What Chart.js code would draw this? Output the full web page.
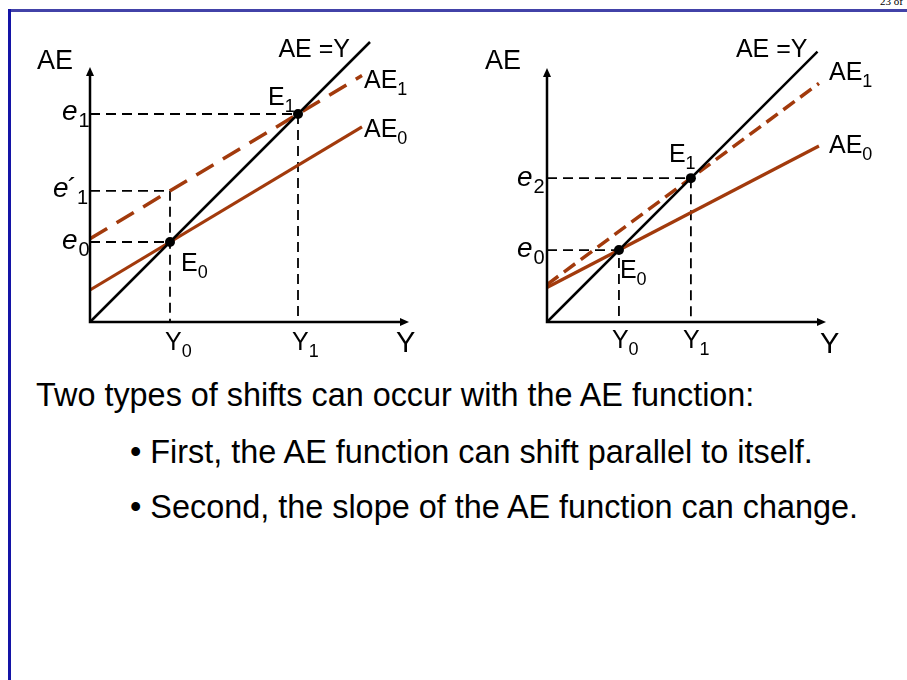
<!DOCTYPE html>
<html>
<head>
<meta charset="utf-8">
<title>Shifts of the AE function</title>
<script src="https://cdn.jsdelivr.net/npm/chart.js@4/dist/chart.umd.min.js"></script>
<style>
  body { margin: 0; background: #fff; width: 907px; height: 680px; overflow: hidden; position: relative;
         font-family: Arial, "Liberation Sans", sans-serif; }
  .frame-top { position: absolute; left: 8px; top: 9px; width: 899px; height: 3px; background: #4242a8; }
  .frame-left { position: absolute; left: 8px; top: 9px; width: 3px; height: 671px; background: #1414a6; }
  .page-no { position: absolute; left: 880px; top: -5px; font: 11px "Liberation Serif", "Times New Roman", serif; white-space: nowrap; }
  canvas { position: absolute; top: 0; }
  #shiftChart { left: 0; }
  #slopeChart { left: 455px; }
  .txt { position: absolute; font-size: 32.4px; line-height: 32px; white-space: nowrap; color: #000; }
</style>
</head>
<body>
<div class="frame-top"></div>
<div class="frame-left"></div>
<div class="page-no">23 of</div>

<canvas id="shiftChart" width="450" height="370"></canvas>
<canvas id="slopeChart" width="452" height="370"></canvas>

<div class="txt" style="left:36px; top:379px;">Two types of shifts can occur with the AE function:</div>
<div class="txt" style="left:130px; top:436px;">• First, the AE function can shift parallel to itself.</div>
<div class="txt" style="left:130px; top:491px;">• Second, the slope of the AE function can change.</div>

<script>
// left panel: AE shifts up parallel to itself
const shiftIncome = [0, 340];        // Y at the two ends of AE0 / AE1
const shiftAE0 = [40, 244];
const shiftAE1 = [104, 308];
const shiftDiagonal = [0, 350];      // AE = Y
const shiftY0 = 100, shiftY1 = 260;
const shiftE0 = 100, shiftE1prime = 164, shiftE1 = 260;
const shiftMax = { x: 397.5, y: 317.5 };

// right panel: AE gets steeper
const slopeIncome = [0, 378];
const slopeAE0 = [48, 244.6];
const slopeAE1 = [52, 331.7];
const slopeDiagonal = [0, 376];
const slopeY0 = 100, slopeY1 = 200;
const slopeE0 = 100, slopeE2 = 200;
const slopeMax = { x: 386.4, y: 351.7 };

const BROWN = '#a23a0c';
const FONT = 'Arial, "Liberation Sans", sans-serif';

function pts(xs, ys) {
    return xs.map((x, i) => ({ x: x, y: ys[i] }));
}

// axes with arrow heads, drawn over the guides
const arrowAxes = {
    id: 'arrowAxes',
    afterDatasetsDraw(chart) {
        const ctx = chart.ctx;
        const a = chart.chartArea;
        ctx.save();
        ctx.strokeStyle = '#000';
        ctx.fillStyle = '#000';
        ctx.lineWidth = 2.5;
        ctx.beginPath();
        ctx.moveTo(a.left, a.top + 4);
        ctx.lineTo(a.left, a.bottom);
        ctx.lineTo(a.right - 4, a.bottom);
        ctx.stroke();
        // heads
        ctx.beginPath();
        ctx.moveTo(a.left, a.top - 1);
        ctx.lineTo(a.left - 4, a.top + 8);
        ctx.lineTo(a.left + 4, a.top + 8);
        ctx.closePath();
        ctx.fill();
        ctx.beginPath();
        ctx.moveTo(a.right + 1, a.bottom);
        ctx.lineTo(a.right - 8, a.bottom - 4);
        ctx.lineTo(a.right - 8, a.bottom + 4);
        ctx.closePath();
        ctx.fill();
        ctx.restore();
    }
};

// text labels with subscripts, placed from data positions
const diagramLabels = {
    id: 'diagramLabels',
    afterDraw(chart, args, opts) {
        const ctx = chart.ctx;
        const xs = chart.scales.x, ys = chart.scales.y;
        ctx.save();
        ctx.fillStyle = '#000';
        ctx.textBaseline = 'alphabetic';
        opts.items.forEach(it => {
            const size = it.size || 25;
            const subSize = Math.round(size * 0.7);
            const mainFont = (it.italic ? 'italic ' : '') + size + 'px ' + FONT;
            ctx.font = mainFont;
            const w = ctx.measureText(it.t).width;
            let markW = 0;
            if (it.mark) {
                ctx.font = size + 'px ' + FONT;
                markW = ctx.measureText(it.mark).width;
            }
            let subW = 0;
            if (it.sub) {
                ctx.font = subSize + 'px ' + FONT;
                subW = ctx.measureText(it.sub).width;
            }
            let x = xs.getPixelForValue(it.at[0]) + it.dx;
            const y = ys.getPixelForValue(it.at[1]) + it.dy;
            if (it.align === 'right') x -= w + markW + subW;
            ctx.font = mainFont;
            ctx.fillText(it.t, x, y);
            if (it.mark) {
                ctx.font = size + 'px ' + FONT;
                ctx.fillText(it.mark, x + w - 1, y);
            }
            if (it.sub) {
                ctx.font = subSize + 'px ' + FONT;
                ctx.fillText(it.sub, x + w + markW - (it.mark ? 2 : 0) + (it.italic ? 1 : 0), y + 7);
            }
        });
        ctx.restore();
    }
};

function lineSet(data, color, width, dash) {
    return {
        data: data,
        showLine: true,
        borderColor: color,
        borderWidth: width,
        borderDash: dash || [],
        pointRadius: 0,
        clip: false,
        fill: false
    };
}

function guideSet(data) {
    return lineSet(data, '#000', 1.8, [10, 6]);
}

function dotSet(data) {
    return {
        data: data,
        showLine: false,
        pointRadius: 5,
        pointBackgroundColor: '#000',
        pointBorderWidth: 0,
        clip: false
    };
}

function makeChart(id, datasets, max, padding, items) {
    return new Chart(document.getElementById(id), {
        type: 'scatter',
        data: { datasets: datasets },
        options: {
            responsive: false,
            animation: false,
            events: [],
            layout: { padding: padding },
            scales: {
                x: { type: 'linear', min: 0, max: max.x, display: false },
                y: { type: 'linear', min: 0, max: max.y, display: false }
            },
            plugins: {
                legend: { display: false },
                tooltip: { enabled: false },
                diagramLabels: { items: items }
            }
        },
        plugins: [arrowAxes, diagramLabels]
    });
}

makeChart('shiftChart', [
    dotSet([{ x: shiftY0, y: shiftE0 }, { x: shiftY1, y: shiftE1 }]),
    lineSet(pts(shiftDiagonal, shiftDiagonal), '#000', 2.5),
    lineSet(pts(shiftIncome, shiftAE1), BROWN, 3.5, [20, 11]),
    lineSet(pts(shiftIncome, shiftAE0), BROWN, 3.2),
    guideSet([{ x: 0, y: shiftE1 }, { x: shiftY1, y: shiftE1 }, { x: shiftY1, y: 0 }]),
    guideSet([{ x: 0, y: shiftE1prime }, { x: shiftY0, y: shiftE1prime }, { x: shiftY0, y: 0 }]),
    guideSet([{ x: 0, y: shiftE0 }, { x: shiftY0, y: shiftE0 }])
], shiftMax, { left: 90, top: 68, right: 42, bottom: 48 }, [
    { t: 'AE', at: [0, shiftMax.y], dx: -53, dy: 1, size: 27 },
    { t: 'Y', at: [shiftMax.x, 0], dx: -12, dy: 30, size: 29 },
    { t: 'AE =Y', at: [shiftDiagonal[1], shiftDiagonal[1]], dx: -20, dy: 15, align: 'right' },
    { t: 'AE', sub: '1', at: [shiftIncome[1], shiftAE1[1]], dx: 2, dy: 12 },
    { t: 'AE', sub: '0', at: [shiftIncome[1], shiftAE0[1]], dx: 2, dy: 10 },
    { t: 'E', sub: '1', at: [shiftY1, shiftE1], dx: -30, dy: -9 },
    { t: 'E', sub: '0', at: [shiftY0, shiftE0], dx: 11, dy: 29 },
    { t: 'e', sub: '1', italic: true, size: 28, at: [0, shiftE1], dx: -28, dy: 6 },
    { t: 'e', mark: '´', sub: '1', italic: true, size: 28, at: [0, shiftE1prime], dx: -37, dy: 6 },
    { t: 'e', sub: '0', italic: true, size: 28, at: [0, shiftE0], dx: -28, dy: 7 },
    { t: 'Y', sub: '0', at: [shiftY0, 0], dx: -5, dy: 28 },
    { t: 'Y', sub: '1', at: [shiftY1, 0], dx: -6, dy: 28 }
]);

makeChart('slopeChart', [
    dotSet([{ x: slopeY0, y: slopeE0 }, { x: slopeY1, y: slopeE2 }]),
    lineSet(pts(slopeDiagonal, slopeDiagonal), '#000', 2.5),
    lineSet(pts(slopeIncome, slopeAE1), BROWN, 3.5, [14, 7]),
    lineSet(pts(slopeIncome, slopeAE0), BROWN, 3.2),
    guideSet([{ x: 0, y: slopeE2 }, { x: slopeY1, y: slopeE2 }, { x: slopeY1, y: 0 }]),
    guideSet([{ x: 0, y: slopeE0 }, { x: slopeY0, y: slopeE0 }, { x: slopeY0, y: 0 }])
], slopeMax, { left: 92, top: 69, right: 82, bottom: 48 }, [
    { t: 'AE', at: [0, slopeMax.y], dx: -62, dy: 0, size: 27 },
    { t: 'Y', at: [slopeMax.x, 0], dx: -5, dy: 31, size: 29 },
    { t: 'AE =Y', at: [slopeDiagonal[1], slopeDiagonal[1]], dx: -10, dy: 5, align: 'right' },
    { t: 'AE', sub: '1', at: [slopeIncome[1], slopeAE1[1]], dx: 10, dy: -3 },
    { t: 'AE', sub: '0', at: [slopeIncome[1], slopeAE0[1]], dx: 10, dy: 7 },
    { t: 'E', sub: '1', at: [slopeY1, slopeE2], dx: -22, dy: -16 },
    { t: 'E', sub: '0', at: [slopeY0, slopeE0], dx: 1, dy: 28 },
    { t: 'e', sub: '2', italic: true, size: 28, at: [0, slopeE2], dx: -30, dy: 8 },
    { t: 'e', sub: '0', italic: true, size: 28, at: [0, slopeE0], dx: -30, dy: 7 },
    { t: 'Y', sub: '0', at: [slopeY0, 0], dx: -7, dy: 26 },
    { t: 'Y', sub: '1', at: [slopeY1, 0], dx: -8, dy: 26 }
]);
</script>
</body>
</html>
